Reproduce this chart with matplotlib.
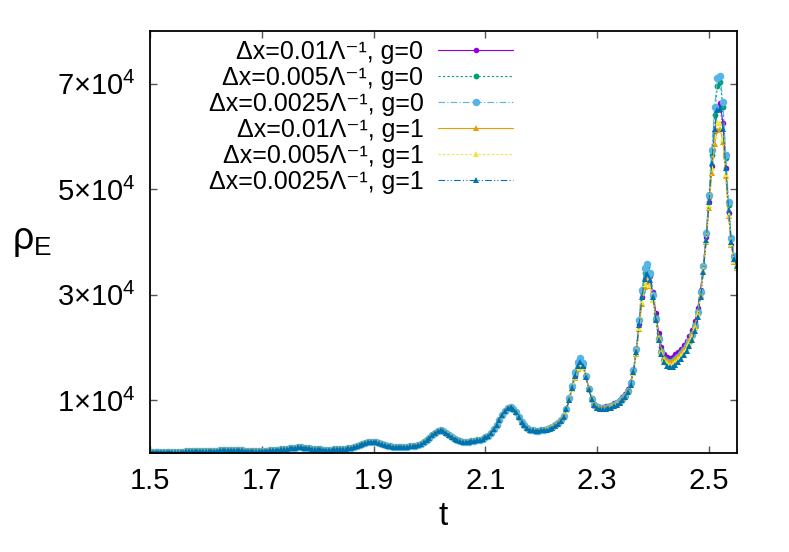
import numpy as np
import matplotlib
matplotlib.use('Agg')
import matplotlib.pyplot as plt

plt.rcParams['font.family'] = ['Liberation Sans', 'DejaVu Sans']
plt.rcParams['mathtext.fontset'] = 'custom'
plt.rcParams['mathtext.rm'] = 'Liberation Sans'
plt.rcParams['mathtext.it'] = 'Liberation Sans:italic'

# time grid (output every 0.005)
t = np.round(np.arange(1.5, 2.5501, 0.005), 3)

# rho_E in units of 1e3, t = 1.500 ... 2.200 (all runs overlap here)
rho_early = [
    0.30, 0.30, 0.31, 0.31, 0.30, 0.30, 0.30, 0.31, 0.31, 0.32, 0.32, 0.32, 0.32, 0.33, 0.33, 0.33, 0.34, 0.35, 0.36, 0.38, 0.40,
    0.42, 0.44, 0.47, 0.50, 0.53, 0.57, 0.60, 0.62, 0.63, 0.62, 0.60, 0.56, 0.53, 0.50, 0.48, 0.47, 0.46, 0.46, 0.46, 0.47,
    0.48, 0.50, 0.52, 0.55, 0.58, 0.63, 0.70, 0.78, 0.86, 0.94, 1.00, 1.05, 1.08, 1.09, 1.07, 1.02, 0.95, 0.87, 0.80, 0.75,
    0.71, 0.69, 0.68, 0.68, 0.69, 0.70, 0.72, 0.75, 0.79, 0.85, 0.93, 1.04, 1.18, 1.35, 1.55, 1.78, 1.98, 2.12, 2.18, 2.15,
    2.03, 1.85, 1.65, 1.48, 1.35, 1.27, 1.22, 1.20, 1.20, 1.21, 1.23, 1.26, 1.30, 1.36, 1.45, 1.58, 1.77, 2.05, 2.42, 2.88,
    3.38, 3.85, 4.18, 4.30, 4.18, 3.85, 3.40, 2.98, 2.65, 2.42, 2.28, 2.20, 2.18, 2.20, 2.25, 2.32, 2.42, 2.55, 2.72, 2.98,
    3.35, 3.85, 4.50, 5.35, 6.30, 7.25, 8.05, 8.55, 8.70, 8.45, 7.80, 6.90, 6.00, 5.25, 4.75, 4.45, 4.30, 4.25, 4.28, 4.35,
]

# t = 2.205 ... 2.550, one list per run
late_dx01_g0 = [
    4.45, 4.60, 4.78, 5.00, 5.30, 5.70, 6.25, 7.10, 8.40, 10.2, 12.4, 14.6, 16.4, 17.2, 16.4, 14.5, 12.3, 10.5, 9.40, 8.90,
    8.75, 8.75, 8.85, 9.00, 9.20, 9.45, 9.75, 10.1, 10.6, 11.2, 12.1, 13.5, 15.8, 19.5, 24.5, 29.5, 33.0, 34.3, 33.5, 30.5,
    26.5, 22.8, 20.2, 18.8, 18.2, 18.1, 18.3, 18.7, 19.2, 19.8, 20.5, 21.3, 22.2, 23.4, 25.0, 27.5, 31.0, 35.5, 41.0, 47.5,
    54.5, 61.0, 65.5, 66.3, 62.5, 54.0, 45.5, 39.5, 36.5, 35.5,
]
late_dx005_g0 = [
    4.40, 4.55, 4.72, 4.95, 5.25, 5.65, 6.20, 7.05, 8.40, 10.3, 12.6, 15.0, 16.9, 17.7, 16.8, 14.6, 12.2, 10.3, 9.20, 8.75,
    8.60, 8.60, 8.68, 8.82, 9.00, 9.25, 9.55, 9.90, 10.4, 11.0, 11.9, 13.4, 15.8, 19.7, 25.0, 30.5, 34.2, 35.2, 33.8, 30.0,
    25.8, 22.0, 19.5, 18.0, 17.5, 17.4, 17.6, 18.0, 18.5, 19.1, 19.8, 20.6, 21.5, 22.7, 24.4, 27.0, 30.8, 35.5, 41.5, 48.5,
    56.5, 64.0, 69.5, 70.3, 65.5, 56.0, 47.0, 40.5, 37.0, 36.0,
]
late_dx0025_g0 = [
    4.40, 4.55, 4.72, 4.95, 5.25, 5.65, 6.20, 7.05, 8.45, 10.4, 12.8, 15.3, 17.3, 18.0, 17.0, 14.7, 12.2, 10.3, 9.15, 8.70,
    8.55, 8.55, 8.62, 8.75, 8.95, 9.20, 9.50, 9.85, 10.3, 10.9, 11.8, 13.3, 15.8, 19.8, 25.3, 31.0, 35.0, 35.9, 34.2, 30.0,
    25.5, 21.7, 19.2, 17.7, 17.2, 17.1, 17.3, 17.7, 18.2, 18.8, 19.5, 20.3, 21.2, 22.4, 24.1, 26.7, 30.6, 35.5, 41.8, 49.0,
    57.5, 65.5, 71.0, 71.5, 66.5, 56.5, 47.5, 40.8, 37.3, 36.2,
]
late_dx01_g1 = [
    4.40, 4.55, 4.72, 4.95, 5.25, 5.65, 6.20, 7.00, 8.25, 10.0, 12.1, 14.2, 15.9, 16.7, 16.1, 14.4, 12.3, 10.5, 9.35, 8.80,
    8.60, 8.55, 8.60, 8.72, 8.90, 9.12, 9.40, 9.75, 10.2, 10.8, 11.7, 13.0, 15.2, 18.8, 23.5, 28.3, 31.5, 32.4, 31.6, 29.0,
    25.5, 22.0, 19.5, 18.1, 17.5, 17.3, 17.4, 17.8, 18.3, 18.9, 19.6, 20.4, 21.3, 22.5, 24.1, 26.6, 30.0, 34.5, 40.0, 46.5,
    53.0, 58.5, 61.3, 61.5, 59.0, 52.5, 45.0, 39.5, 36.3, 35.0,
]
late_dx005_g1 = [
    4.35, 4.50, 4.67, 4.90, 5.20, 5.60, 6.15, 6.95, 8.25, 10.0, 12.2, 14.4, 16.1, 16.9, 16.2, 14.4, 12.2, 10.4, 9.20, 8.65,
    8.45, 8.40, 8.45, 8.57, 8.75, 8.97, 9.25, 9.60, 10.1, 10.7, 11.6, 13.0, 15.2, 18.9, 23.8, 28.7, 32.0, 32.9, 31.9, 29.0,
    25.3, 21.7, 19.1, 17.6, 17.0, 16.8, 16.9, 17.3, 17.8, 18.4, 19.1, 19.9, 20.8, 22.0, 23.7, 26.3, 29.8, 34.5, 40.2, 47.0,
    54.0, 60.0, 62.8, 62.5, 59.5, 52.8, 45.2, 39.7, 36.5, 35.2,
]
late_dx0025_g1 = [
    4.30, 4.45, 4.62, 4.85, 5.15, 5.55, 6.10, 6.95, 8.30, 10.1, 12.4, 14.7, 16.5, 17.3, 16.5, 14.5, 12.2, 10.3, 9.10, 8.55,
    8.35, 8.30, 8.35, 8.47, 8.65, 8.87, 9.15, 9.50, 10.0, 10.6, 11.5, 13.0, 15.3, 19.1, 24.3, 29.5, 33.0, 34.0, 32.8, 29.5,
    25.3, 21.5, 18.8, 17.2, 16.5, 16.3, 16.4, 16.8, 17.3, 17.9, 18.6, 19.4, 20.3, 21.5, 23.2, 25.8, 29.5, 34.3, 40.3, 47.5,
    55.0, 61.5, 65.0, 65.3, 61.5, 54.0, 46.0, 40.0, 36.7, 35.4,
]

labels = [
    'Δx=0.01Λ⁻¹, g=0',
    'Δx=0.005Λ⁻¹, g=0',
    'Δx=0.0025Λ⁻¹, g=0',
    'Δx=0.01Λ⁻¹, g=1',
    'Δx=0.005Λ⁻¹, g=1',
    'Δx=0.0025Λ⁻¹, g=1',
]
lates = [late_dx01_g0, late_dx005_g0, late_dx0025_g0, late_dx01_g1, late_dx005_g1, late_dx0025_g1]
colors = ['#9400d3', '#009e73', '#56b4e9', '#e69f00', '#f0e442', '#0072b2']
styles = ['-', (0, (2, 2)), (0, (6, 2, 1, 2)), '-', (0, (2, 2)), (0, (6, 2, 1, 2, 1, 2))]
markers = ['o', 'o', 'o', '^', '^', '^']
msizes = [4.0, 4.2, 5.4, 4.6, 4.6, 4.8]

xticks = [1.5, 1.7, 1.9, 2.1, 2.3, 2.5]
yticks = [1e4, 3e4, 5e4, 7e4]
ytick_labels = ['1×10$^4$', '3×10$^4$', '5×10$^4$', '7×10$^4$']

fig = plt.figure(figsize=(7.89, 5.52), dpi=100)
ax = fig.add_axes([0.19, 0.179, 0.744, 0.765])

for lab, late, c, ls, m, ms in zip(labels, lates, colors, styles, markers, msizes):
    rho = np.array(rho_early + late) * 1e3
    ax.plot(t, rho, color=c, linestyle=ls, linewidth=0.8, marker=m,
            markersize=ms, markeredgewidth=0, label=lab)

ax.set_xlim(1.5, 2.55)
ax.set_ylim(0, 8e4)
ax.set_xticks(xticks)
ax.set_xticklabels([f'{v:.1f}' for v in xticks])
ax.set_yticks(yticks)
ax.set_yticklabels(ytick_labels)
ax.tick_params(direction='in', length=5, width=1, color='#555555',
               top=True, right=True, labelsize=21, pad=10)
for s in ax.spines.values():
    s.set_linewidth(1.3)

ax.set_xlabel('t', fontsize=24, labelpad=4)
ax.set_ylabel(r'ρ$_{\mathrm{E}}$', fontsize=27, rotation=0)
ax.yaxis.set_label_coords(-0.2, 0.46)

leg = ax.legend(loc='upper right', bbox_to_anchor=(0.649, 1.02), frameon=False,
                markerfirst=False, fontsize=18, handlelength=3.0,
                handletextpad=0.6, labelspacing=0.08, borderpad=0.2)
leg._legend_box._children[-1]._children[0].align = 'right'

fig.savefig('out.png', dpi=100)
